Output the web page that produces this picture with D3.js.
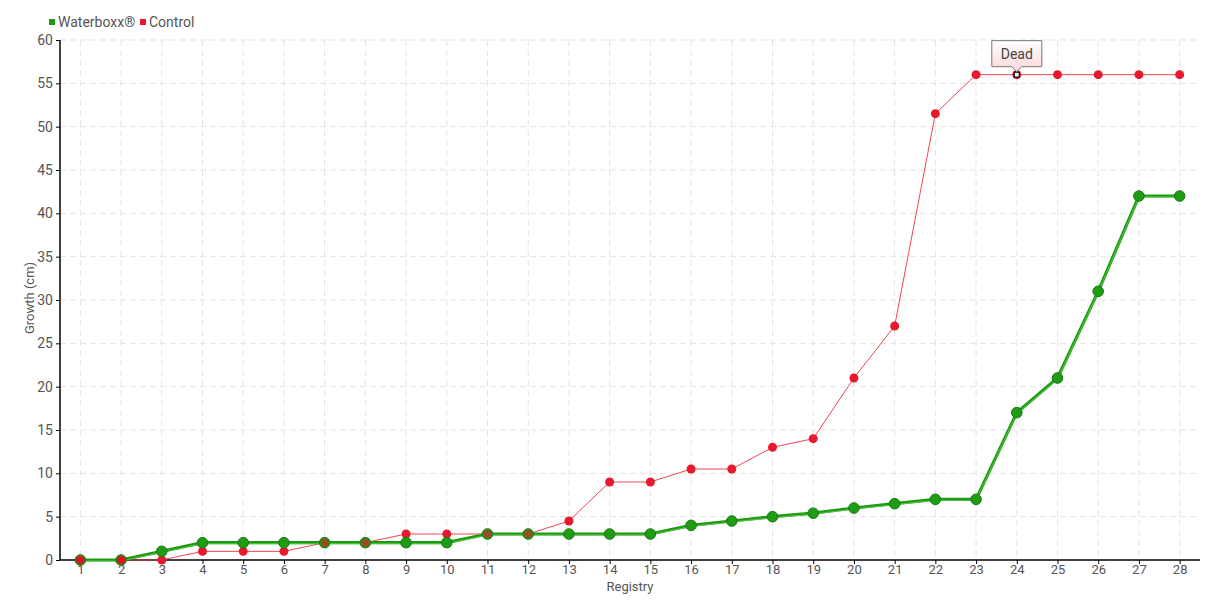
<!DOCTYPE html>
<html><head><meta charset="utf-8">
<script src="https://cdn.jsdelivr.net/npm/d3@7"></script>
<style>
body{margin:0;background:#fff;}
text{font-family:Roboto,"Liberation Sans",sans-serif;}
</style></head>
<body><svg id="c" width="1220" height="600"></svg>
<script>
const categories = ["1","2","3","4","5","6","7","8","9","10","11","12","13","14","15","16","17","18","19","20","21","22","23","24","25","26","27","28"];
const waterboxx = [0,0,1,2,2,2,2,2,2,2,3,3,3,3,3,4,4.5,5,5.4,6,6.5,7,7,17,21,31,42,42];
const control = [0,0,0,1,1,1,2,2,3,3,3,3,4.5,9,9,10.5,10.5,13,14,21,27,51.5,56,56,56,56,56,56];
const yTicks = [0,5,10,15,20,25,30,35,40,45,50,55,60];
const seriesNames = ["Waterboxx®","Control"];
const annotation = {index:23, label:"Dead"};

const svg = d3.select("#c");
const L=60,R=1200,T=40,B=560;
const x = d3.scalePoint().domain(categories).range([L,R]).padding(0.5);
const y = d3.scaleLinear().domain([0,60]).range([B,T]);

// grid
const g = svg.append("g");
g.selectAll(".vg").data(categories).join("line")
 .attr("x1",d=>x(d)).attr("x2",d=>x(d)).attr("y1",T).attr("y2",B)
 .attr("stroke","#e3e3e3").attr("stroke-dasharray","6,4");
g.selectAll(".hg").data(yTicks.filter(d=>d>0)).join("line")
 .attr("x1",L).attr("x2",R).attr("y1",d=>y(d)).attr("y2",d=>y(d))
 .attr("stroke","#e3e3e3").attr("stroke-dasharray","6,4");

// axes
const xa = svg.append("g").attr("transform",`translate(0,${B})`)
 .call(d3.axisBottom(x).tickSize(4).tickPadding(1));
const ya = svg.append("g").attr("transform",`translate(${L},0)`)
 .call(d3.axisLeft(y).tickValues(yTicks).tickSize(4).tickPadding(3));
[xa,ya].forEach(a=>{
 a.select(".domain").attr("stroke","#000").attr("stroke-width",1.5);
 a.selectAll(".tick line").attr("stroke","#000");
 a.selectAll(".tick text").attr("fill","#555").style("font-size","14px").style("font-family","Roboto,sans-serif");
});
xa.selectAll(".tick text").style("font-size","13px");
xa.select(".domain").attr("d",`M${L},0H${R}`);
ya.select(".domain").attr("d",`M0,${B}V${T}`);

svg.append("text").attr("x",630).attr("y",591).attr("text-anchor","middle")
 .attr("fill","#555").style("font-size","13px").text("Registry");
svg.append("text").attr("transform","translate(34,298) rotate(-90)").attr("text-anchor","middle")
 .attr("fill","#555").style("font-size","13px").text("Growth (cm)");

// lines
const line = d3.line().x((d,i)=>x(categories[i])).y(d=>y(d));
svg.append("path").datum(control).attr("d",line).attr("fill","none")
 .attr("stroke","#f2303f").attr("stroke-width",1).attr("opacity",0.9);
svg.append("path").datum(waterboxx).attr("d",line).attr("fill","none")
 .attr("stroke","#1e9a12").attr("stroke-width",3.2);
svg.append("path").datum(waterboxx).attr("d",line).attr("fill","none")
 .attr("stroke","#5fd04f").attr("stroke-width",1).attr("transform","translate(0,1)").attr("opacity",0.8);

svg.selectAll(".cp").data(control).join("circle")
 .attr("cx",(d,i)=>x(categories[i])).attr("cy",d=>y(d)).attr("r",4.5)
 .attr("fill",(d,i)=>i===annotation.index?"none":"#e8192c");
svg.selectAll(".wp").data(waterboxx).join("circle")
 .attr("cx",(d,i)=>x(categories[i])).attr("cy",d=>y(d)).attr("r",5.3)
 .attr("fill","#209b14").attr("stroke","#167a0e").attr("stroke-width",1);
svg.selectAll(".cp2").data(control.slice(0,2)).join("circle")
 .attr("cx",(d,i)=>x(categories[i])).attr("cy",d=>y(d)).attr("r",4.3)
 .attr("fill","#d81525");
const overlapIdx=[6,7,10,11];
svg.selectAll(".cp3").data(overlapIdx).join("circle")
 .attr("cx",i=>x(categories[i])).attr("cy",i=>y(control[i])).attr("r",4)
 .attr("fill","#e8192c").attr("opacity",0.6);

// annotation
const ax = x(categories[annotation.index]), ay = y(control[annotation.index]);
svg.append("circle").attr("cx",ax).attr("cy",ay).attr("r",4.5).attr("fill","#e8192c");
svg.append("rect").attr("x",ax-2.5).attr("y",ay-2.5).attr("width",5).attr("height",5)
 .attr("fill","#fff").attr("stroke","#000").attr("stroke-width",1.2);
const defs = svg.append("defs");
const gr = defs.append("linearGradient").attr("id","tg").attr("x1",0).attr("x2",0).attr("y1",0).attr("y2",1);
gr.append("stop").attr("offset","0%").attr("stop-color","#fff");
gr.append("stop").attr("offset","100%").attr("stop-color","#fcd6d6");
const bx=ax-25, by=ay-34, bw=50, bh=26;
svg.append("path")
 .attr("d",`M${bx},${by}H${bx+bw}V${by+bh}H${ax+5}L${ax},${by+bh+5}L${ax-5},${by+bh}H${bx}Z`)
 .attr("fill","url(#tg)").attr("stroke","#777").attr("stroke-width",1);
svg.append("text").attr("x",ax).attr("y",by+18).attr("text-anchor","middle")
 .attr("fill","#444").style("font-size","14px").text(annotation.label);

// legend
const leg = svg.append("g");
const lc = ["#1e9a12","#e8192c"];
const lx = [49,140];
seriesNames.forEach((n,i)=>{
 leg.append("rect").attr("x",lx[i]).attr("y",19).attr("width",6).attr("height",6).attr("fill",lc[i]);
 leg.append("text").attr("x",lx[i]+9).attr("y",27).attr("fill","#555").style("font-size","14px").text(n);
});
</script></body></html>
